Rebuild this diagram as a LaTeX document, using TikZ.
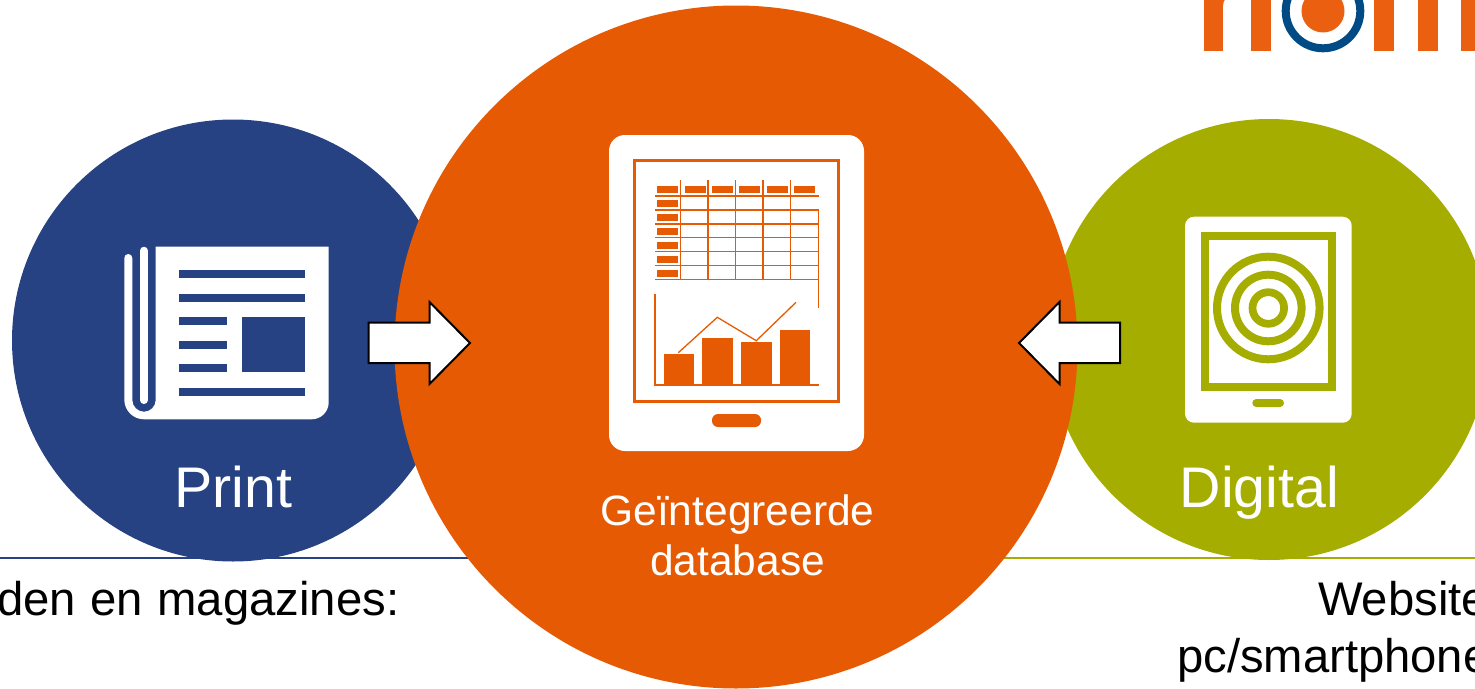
\documentclass[tikz,border=0pt]{standalone}
\usepackage{fontspec}
\setmainfont{Liberation Sans}
\definecolor{cblue}{HTML}{264282}
\definecolor{corange}{HTML}{E55A02}
\definecolor{cgreen}{HTML}{A5AD00}
\definecolor{logoor}{HTML}{EB6010}
\definecolor{logobl}{HTML}{004B85}
\tikzset{
  disc/.style={circle,minimum size=#1,inner sep=0pt,outer sep=0pt},
  bigarrow/.style={draw=black,line width=2pt,fill=white,miter limit=10},
  label/.style={text=white,inner sep=0pt,align=center,anchor=base},
  caption/.style={text=black,inner sep=0pt},
  cell/.style={draw=corange,line width=1.5pt},
}
\begin{document}
\begin{tikzpicture}[x=1pt,y=-1pt]
\useasboundingbox (0,0) rectangle (1475,688);
\clip (0,0) rectangle (1475,688);
% rules
\draw[cblue,line width=1.7pt] (0,558) -- (480,558);
\draw[cgreen,line width=1.7pt] (995,558) -- (1475,558);
% logo
\fill[logoor] (1204,-2) rectangle (1223,50.5);
\fill[logoor] (1251,-2) rectangle (1271,50.5);
\fill[logoor] (1374,-2) rectangle (1394,50.5);
\fill[logoor] (1418,-2) rectangle (1438,50.5);
\fill[logoor] (1461,-2) rectangle (1477,50.5);
\fill[logoor] (1223,6) .. controls (1223,3) and (1224,0) .. (1226,-2) -- (1223,-2) -- cycle;
\draw[logobl,line width=8pt] (1323,11) circle[radius=37.3];
\fill[logoor] (1323,11) circle[radius=21.5];
% discs
\node[disc=442pt,fill=cblue] (print) at (233,340.5) {};
\node[disc=441pt,fill=cgreen] (digital) at (1269,339.5) {};
\node[disc=683pt,fill=corange] (db) at (736,347) {};
% central tablet
\fill[white,rounded corners=16pt] (609,135) rectangle (864,451);
\draw[corange,line width=2.6pt] (634.3,160.3) rectangle (838.5,401.5);
\fill[corange,rounded corners=6pt] (712,414) rectangle (761,427);
\foreach \x in {657,684.5,712,739,766.5,794}
  \fill[corange] (\x,186) rectangle ++(21,7);
\foreach \y in {200,213.7,227.7,241.7,255.7,269.7}
  \fill[corange] (657,\y) rectangle ++(21,7);
\draw[cell] (655,196) -- (818.5,196);
\foreach \y in {210,224,237.7,251.5,265.5,279.3}
  \draw[cell] (655,\y) -- (818.5,\y);
\foreach \x in {680.7,708,735.5,763,790.5}
  \draw[cell] (\x,180) -- (\x,279.3);
\draw[cell] (818.3,210) -- (818.3,308);
\draw[cell] (655,294) -- (655,385) -- (818.5,385);
\fill[corange] (663.7,354) rectangle (694.3,385);
\fill[corange] (702.3,337.7) rectangle (733,385);
\fill[corange] (741,342) rectangle (771.7,385);
\fill[corange] (779.7,329.7) rectangle (810.3,385);
\draw[corange,line width=1.3pt] (678.3,352.7) -- (717.3,317.3) -- (756.3,340.7) -- (796,302.3);
% newspaper
\fill[white] (155.7,246.7) -- (328.7,246.7) -- (328.7,402.3)
  arc[start angle=0,end angle=90,radius=17] -- (144,419.3)
  arc[start angle=90,end angle=180,radius=19.7] -- (124.3,258)
  arc[start angle=180,end angle=360,radius=4] -- (132.3,400)
  arc[start angle=180,end angle=0,radius=11.7] -- cycle;
\draw[white,line width=7.7pt,line cap=round] (143.9,250.6) -- (143.9,400.2);
\foreach \y in {270.3,294,388}
  \fill[cblue] (179.3,\y) rectangle (305,\y+7.7);
\foreach \y in {317.3,341,364.3}
  \fill[cblue] (179.3,\y) rectangle (226.7,\y+7.7);
\fill[cblue] (242.3,317.3) rectangle (305,372);
% digital tablet
\fill[white,rounded corners=9pt] (1185,216.7) rectangle (1351.7,422.7);
\draw[cgreen,line width=8pt] (1204.7,236.3) rectangle (1331.7,387);
\draw[cgreen,line width=8pt] (1268.3,308) circle[radius=51.3];
\draw[cgreen,line width=8pt] (1268.3,308) circle[radius=33.3];
\draw[cgreen,line width=7.7pt] (1268.3,308) circle[radius=15.8];
\fill[cgreen,rounded corners=4pt] (1252.3,399) rectangle (1284,407);
% arrows
\draw[bigarrow] (368.5,322.5) -- (429.5,322.5) -- (429.5,302) -- (470,343) -- (429.5,384) -- (429.5,363) -- (368.5,363) -- cycle;
\draw[bigarrow] (1120,322.5) -- (1059.5,322.5) -- (1059.5,302) -- (1019,343) -- (1059.5,384) -- (1059.5,363) -- (1120,363) -- cycle;
% text
\node[label,font=\fontsize{57.3}{57}\selectfont] (tprint) at (233.5,507.5) {Print};
\node[label,font=\fontsize{57.3}{57}\selectfont] (tdigital) at (1259.5,507.5) {Digital};
\node[label,font=\fontsize{42.5}{50.5}\selectfont] (tdb) at (737.5,525) {Geïntegreerde};
\node[label,font=\fontsize{42.5}{50.5}\selectfont] (tdb2) at (737.5,575.5) {database};
\node[caption,anchor=base east,font=\fontsize{47.3}{56}\selectfont] (cleft) at (399.5,615) {den\hspace{1.5pt} en\hspace{1pt} magazines:};
\node[caption,anchor=base west,font=\fontsize{47.2}{56}\selectfont] (cright) at (1318,615) {Websites};
\node[caption,anchor=base west,font=\fontsize{47.2}{56}\selectfont] (cright2) at (1177,672) {pc/smartphone};
\end{tikzpicture}
\end{document}
